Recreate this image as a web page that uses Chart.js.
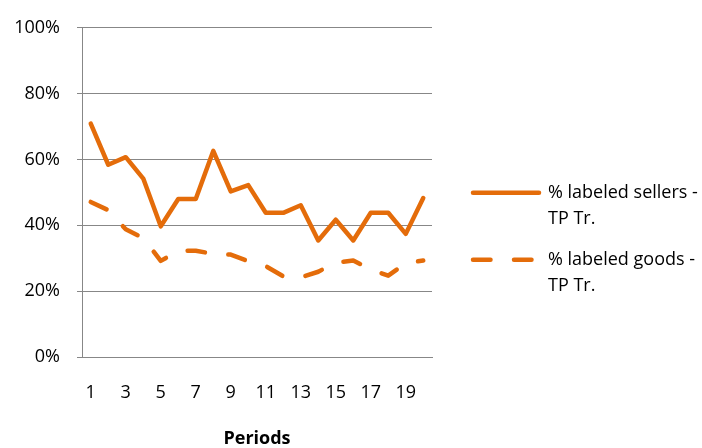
<!DOCTYPE html>
<html>
<head>
<meta charset="utf-8">
<script src="https://cdn.jsdelivr.net/npm/chart.js@4/dist/chart.umd.min.js"></script>
<style>
  html, body { margin: 0; padding: 0; background: #ffffff; }
  #wrap { width: 702px; height: 448px; }
</style>
</head>
<body>
<div id="wrap"><canvas id="c" width="702" height="448"></canvas></div>
<script>
// ---- data ----
const periods = ['1','2','3','4','5','6','7','8','9','10','11','12','13','14','15','16','17','18','19','20'];
const shownPeriodTicks = ['1','3','5','7','9','11','13','15','17','19'];
const sellersPct = [70.9, 58.4, 60.7, 54.2, 39.7, 48.0, 48.0, 62.6, 50.3, 52.2, 43.8, 43.8, 46.1, 35.4, 41.7, 35.4, 43.8, 43.8, 37.4, 48.3];
const goodsPct   = [47.1, 44.6, 38.8, 36.1, 29.2, 32.2, 32.3, 31.3, 31.1, 29.1, 27.6, 24.5, 24.2, 25.9, 28.7, 29.3, 26.6, 24.7, 28.5, 29.3];
const seriesNames = ['% labeled sellers - TP Tr.', '% labeled goods - TP Tr.'];
const legendLines = [['% labeled sellers -', 'TP Tr.'], ['% labeled goods -', 'TP Tr.']];
const yTicks = [0, 20, 40, 60, 80, 100];
const xTitle = 'Periods';

const ORANGE = '#E46C0A';
const GRID = '#878787';
const FONT = "'Open Sans', 'Noto Sans', sans-serif";

new Chart(document.getElementById('c'), {
  type: 'line',
  data: {
    labels: periods,
    datasets: [
      {
        label: seriesNames[0],
        data: sellersPct,
        borderColor: ORANGE,
        backgroundColor: ORANGE,
        borderWidth: 4.5,
        borderCapStyle: 'round',
        borderJoinStyle: 'round',
        pointRadius: 0,
        tension: 0,
        fill: false
      },
      {
        label: seriesNames[1],
        data: goodsPct,
        borderColor: ORANGE,
        backgroundColor: ORANGE,
        borderWidth: 4.5,
        borderDash: [17.5, 23.5],
        borderCapStyle: 'round',
        borderJoinStyle: 'round',
        pointRadius: 0,
        tension: 0,
        fill: false
      }
    ]
  },
  options: {
    responsive: false,
    devicePixelRatio: 1,
    animation: false,
    layout: { padding: { top: 20, left: 0, right: 0, bottom: 0 } },
    plugins: {
      tooltip: { enabled: false },
      legend: {
        position: 'right',
        align: 'center',
        maxWidth: 243,
        title: { display: true, text: ' ', padding: 0, font: { size: 10, lineHeight: 1.94 } },
        labels: {
          usePointStyle: true,
          pointStyle: 'line',
          pointStyleWidth: 66,
          padding: 14,
          color: '#000000',
          font: { family: FONT, size: 18, lineHeight: '26.5px' },
          generateLabels(chart) {
            const items = Chart.defaults.plugins.legend.labels.generateLabels(chart);
            items.forEach((it, i) => {
              const ds = chart.data.datasets[it.datasetIndex];
              it.text = legendLines[i];
              it.lineDash = ds.borderDash || [];
              it.lineCap = ds.borderCapStyle;
              it.lineWidth = ds.borderWidth;
              it.strokeStyle = ds.borderColor;
            });
            return items;
          }
        }
      }
    },
    scales: {
      x: {
        type: 'category',
        offset: true,
        grid: { display: false, drawTicks: false },
        border: { display: true, color: GRID, width: 1 },
        ticks: {
          autoSkip: false,
          maxRotation: 0,
          padding: 25,
          color: '#000000',
          font: { family: FONT, size: 18 },
          callback(value, index) {
            const lab = this.getLabelForValue(value);
            return shownPeriodTicks.includes(lab) ? lab : '';
          }
        },
        title: {
          display: true,
          text: xTitle,
          color: '#000000',
          padding: { top: 0, bottom: -2 },
          font: { family: FONT, size: 18, weight: 'bold' }
        },
        afterFit(scale) { scale.height = 91; }
      },
      y: {
        min: 0,
        max: 100,
        afterBuildTicks(scale) { scale.ticks = yTicks.map(v => ({ value: v })); },
        grid: { color: GRID, lineWidth: 1, tickLength: 5, drawTicks: true },
        border: { display: true, color: GRID, width: 1 },
        ticks: {
          padding: 17,
          color: '#000000',
          font: { family: FONT, size: 18 },
          callback: v => v + '%'
        },
        afterFit(scale) { scale.width = 82; }
      },
      gap: {
        type: 'linear',
        position: 'right',
        display: true,
        grid: { display: false, drawTicks: false },
        border: { display: false },
        ticks: { display: false },
        afterFit(scale) { scale.width = 27; }
      }
    }
  }
});
</script>
</body>
</html>
